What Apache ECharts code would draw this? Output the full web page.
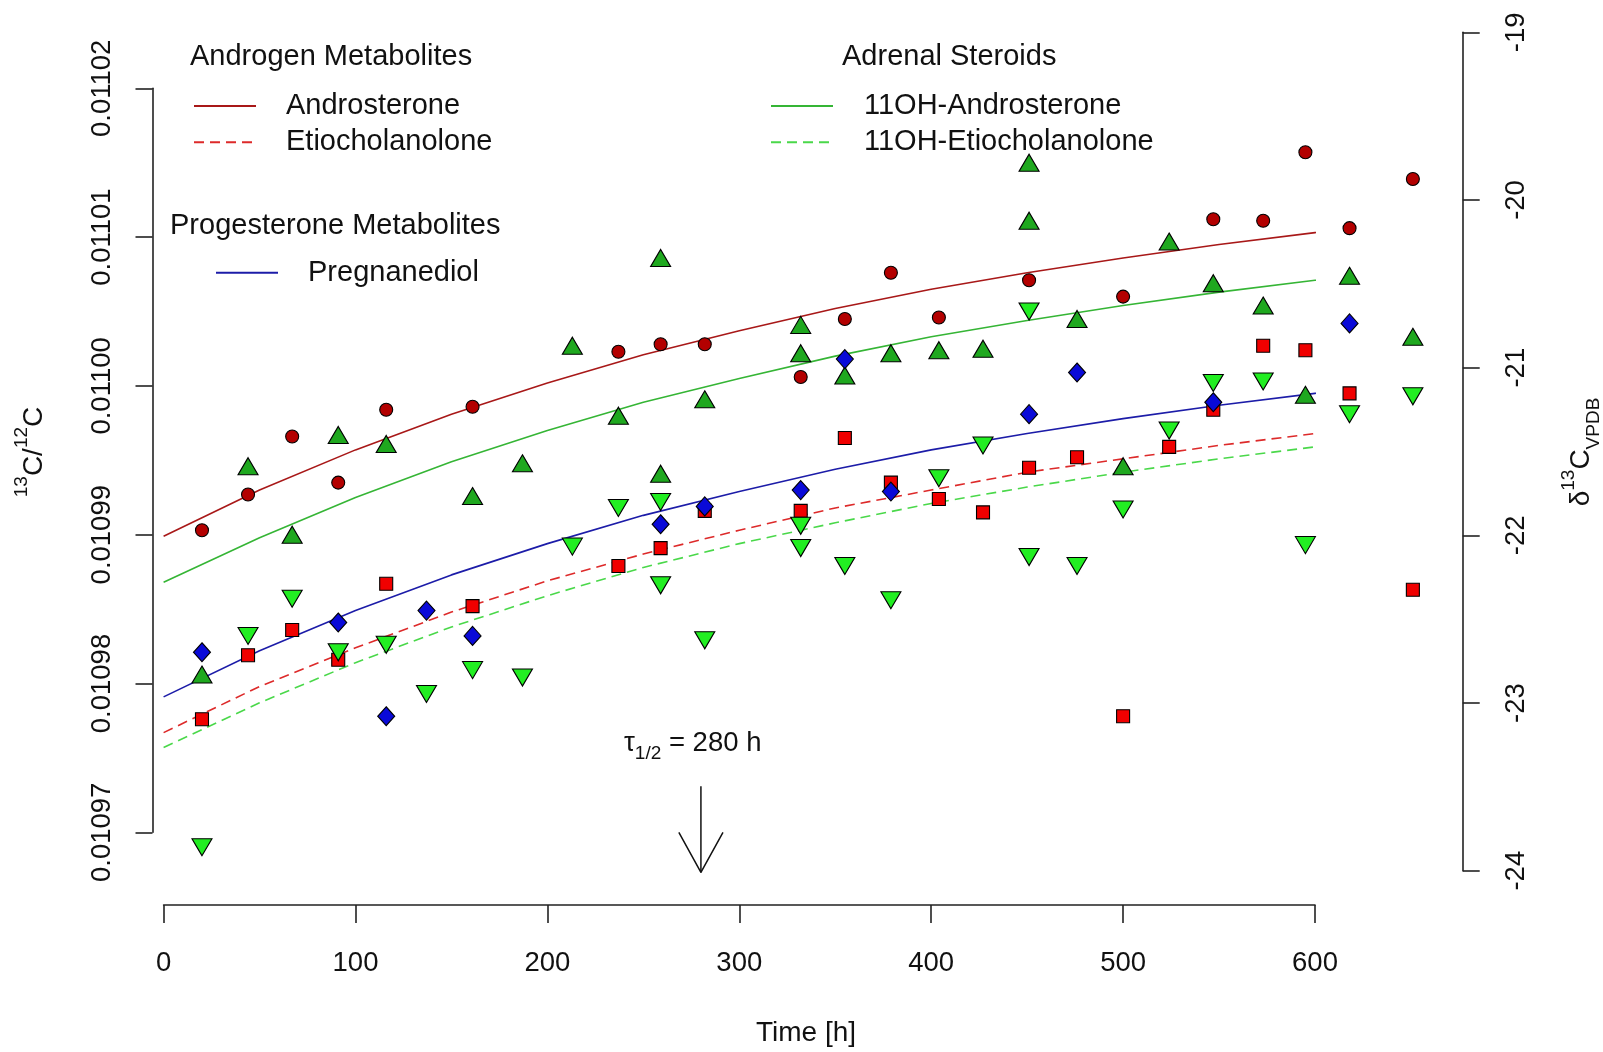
<!DOCTYPE html>
<html>
<head>
<meta charset="utf-8">
<script src="https://cdn.jsdelivr.net/npm/echarts@6/dist/echarts.min.js"></script>
<style>
  html, body { margin: 0; padding: 0; background: #fff; }
  #chart { width: 1603px; height: 1052px; }
</style>
</head>
<body>
<div id="chart"></div>
<script>
// fitted curves, time in hours
var fitTime = [0, 50, 100, 150, 200, 250, 300, 350, 400, 450, 500, 550, 600, 627];
var androFit = [0.0109899, 0.0109930, 0.0109957, 0.0109981, 0.0110002, 0.0110021, 0.0110037, 0.0110052, 0.0110065, 0.0110076, 0.0110086, 0.0110095, 0.0110103, 0.0110107];
var etioFit = [0.0109767, 0.0109798, 0.0109824, 0.0109848, 0.0109869, 0.0109887, 0.0109903, 0.0109918, 0.0109930, 0.0109942, 0.0109951, 0.0109960, 0.0109968, 0.0109972];
var ohAndroFit = [0.0109868, 0.0109898, 0.0109925, 0.0109949, 0.0109970, 0.0109989, 0.0110005, 0.0110020, 0.0110033, 0.0110044, 0.0110054, 0.0110063, 0.0110071, 0.0110075];
var ohEtioFit = [0.0109757, 0.0109787, 0.0109814, 0.0109838, 0.0109859, 0.0109878, 0.0109894, 0.0109908, 0.0109921, 0.0109932, 0.0109942, 0.0109951, 0.0109959, 0.0109963];
var pregFit = [0.0109791, 0.0109822, 0.0109849, 0.0109873, 0.0109894, 0.0109913, 0.0109929, 0.0109944, 0.0109957, 0.0109968, 0.0109978, 0.0109987, 0.0109995, 0.0109999];

// measured points
var androTime = [20, 44, 67, 91, 116, 161, 237, 259, 282, 332, 355, 379, 404, 451, 500, 547, 573, 595, 618, 651];
var androVal = [0.0109903, 0.0109927, 0.0109966, 0.0109935, 0.0109984, 0.0109986, 0.0110023, 0.0110028, 0.0110028, 0.0110006, 0.0110045, 0.0110076, 0.0110046, 0.0110071, 0.0110060, 0.0110112, 0.0110111, 0.0110157, 0.0110106, 0.0110139];

var etioTime = [20, 44, 67, 91, 116, 161, 237, 259, 282, 332, 355, 379, 404, 427, 451, 476, 500, 524, 547, 573, 595, 618, 651];
var etioVal = [0.0109776, 0.0109819, 0.0109836, 0.0109816, 0.0109867, 0.0109852, 0.0109879, 0.0109891, 0.0109916, 0.0109916, 0.0109965, 0.0109935, 0.0109924, 0.0109915, 0.0109945, 0.0109952, 0.0109778, 0.0109959, 0.0109984, 0.0110027, 0.0110024, 0.0109995, 0.0109863];

var ohAndroTime = [20, 44, 67, 91, 116, 161, 187, 213, 237, 259, 259, 282, 332, 332, 355, 379, 404, 427, 451, 451, 476, 500, 524, 547, 573, 595, 618, 651];
var ohAndroVal = [0.0109806, 0.0109946, 0.0109900, 0.0109967, 0.0109961, 0.0109926, 0.0109948, 0.0110027, 0.0109980, 0.0110086, 0.0109941, 0.0109991, 0.0110041, 0.0110022, 0.0110007, 0.0110022, 0.0110024, 0.0110025, 0.0110150, 0.0110111, 0.0110045, 0.0109946, 0.0110097, 0.0110069, 0.0110054, 0.0109994, 0.0110074, 0.0110033];

var ohEtioTime = [20, 44, 67, 91, 116, 137, 161, 187, 213, 237, 259, 259, 282, 332, 332, 355, 379, 404, 427, 451, 451, 476, 500, 524, 547, 573, 595, 618, 651];
var ohEtioVal = [0.0109690, 0.0109832, 0.0109857, 0.0109821, 0.0109826, 0.0109793, 0.0109809, 0.0109804, 0.0109892, 0.0109918, 0.0109922, 0.0109866, 0.0109829, 0.0109906, 0.0109891, 0.0109879, 0.0109856, 0.0109938, 0.0109960, 0.0110050, 0.0109885, 0.0109879, 0.0109917, 0.0109970, 0.0110002, 0.0110003, 0.0109893, 0.0109981, 0.0109993];

var pregTime = [20, 91, 116, 137, 161, 259, 282, 332, 355, 379, 451, 476, 547, 618];
var pregVal = [0.0109821, 0.0109841, 0.0109778, 0.0109849, 0.0109832, 0.0109907, 0.0109919, 0.0109930, 0.0110018, 0.0109929, 0.0109981, 0.0110009, 0.0109989, 0.0110042];

// half-life arrow at 280 h
var arrowShaft = [[280, 0.0109731], [280, 0.0109673]];
var arrowHead = [[268.5, 0.0109700], [280, 0.0109673], [291.5, 0.0109700]];

var font = 'Liberation Sans, Arial, sans-serif';
var axisColor = '#222';

function pairs(ts, vs) {
  return ts.map(function (t, i) { return [t, vs[i]]; });
}

function fitLine(name, data, color, dashed) {
  return {
    name: name,
    type: 'line',
    data: pairs(fitTime, data),
    symbol: 'none',
    clip: false,
    silent: true,
    z: 2,
    itemStyle: { color: color },
    lineStyle: { color: color, width: 1.6, type: dashed ? [10, 6] : 'solid' }
  };
}

function points(name, ts, vs, symbol, size, fill, rotate) {
  return {
    name: name,
    type: 'scatter',
    data: pairs(ts, vs),
    symbol: symbol,
    symbolSize: size,
    symbolRotate: rotate || 0,
    clip: false,
    silent: true,
    z: 3,
    itemStyle: { color: fill, borderColor: '#000', borderWidth: 1.1, opacity: 1 }
  };
}

// legend shows only the line sample, the default circle is made invisible
function legendBlock(names, left, top, gap) {
  return {
    data: names, orient: 'vertical', left: left, top: top,
    padding: 0, itemWidth: 62, itemHeight: 36, itemGap: 7.2, selectedMode: false,
    itemStyle: { opacity: 0, borderWidth: 0 },
    textStyle: { fontSize: 29, color: '#111', fontFamily: font, padding: [0, 0, 0, gap] }
  };
}

var chart = echarts.init(document.getElementById('chart'), null, { renderer: 'canvas' });

chart.setOption({
  animation: false,
  backgroundColor: '#fff',
  textStyle: { fontFamily: font },
  grid: [
    { left: 163.6, top: 88.3, width: 1151.4, height: 744 },
    { left: 163.6, top: 32.3, width: 1299.1, height: 838.4 }
  ],
  xAxis: [
    {
      gridIndex: 0, type: 'value', min: 0, max: 600, interval: 100, offset: 72.7,
      axisLine: { show: true, onZero: false, lineStyle: { color: axisColor, width: 1.6 } },
      axisTick: { show: true, inside: false, length: 18, lineStyle: { color: axisColor, width: 1.6 } },
      axisLabel: { margin: 44, fontSize: 27.5, color: '#111', fontFamily: font },
      splitLine: { show: false }
    },
    { gridIndex: 1, type: 'value', min: 0, max: 600, show: false }
  ],
  yAxis: [
    {
      gridIndex: 0, type: 'value', min: 0.01097, max: 0.01102, interval: 0.00001, offset: 11.1,
      axisLine: { show: true, onZero: false, lineStyle: { color: axisColor, width: 1.6 } },
      axisTick: { show: true, inside: false, length: 17, lineStyle: { color: axisColor, width: 1.6 } },
      axisLabel: {
        rotate: 90, margin: 36, fontSize: 27.5, color: '#111', fontFamily: font,
        formatter: function (v) { return v.toFixed(5); }
      },
      splitLine: { show: false }
    },
    {
      gridIndex: 1, type: 'value', position: 'right', min: -24, max: -19, interval: 1,
      axisLine: { show: true, onZero: false, lineStyle: { color: axisColor, width: 1.6 } },
      axisTick: { show: true, inside: false, length: 17, lineStyle: { color: axisColor, width: 1.6 } },
      axisLabel: { rotate: 90, margin: 40, fontSize: 27.5, color: '#111', fontFamily: font },
      splitLine: { show: false }
    }
  ],
  legend: [
    legendBlock(['Androsterone', 'Etiocholanolone'], 193, 91.6, 25),
    legendBlock(['Pregnanediol'], 215, 258.3, 25),
    legendBlock(['11OH-Androsterone', '11OH-Etiocholanolone'], 770, 91.6, 26)
  ],
  graphic: [
    { type: 'text', x: 190, y: 57, style: { text: 'Androgen Metabolites', fontSize: 29, fontFamily: font, fill: '#111', align: 'left', verticalAlign: 'middle' } },
    { type: 'text', x: 170, y: 226, style: { text: 'Progesterone Metabolites', fontSize: 29, fontFamily: font, fill: '#111', align: 'left', verticalAlign: 'middle' } },
    { type: 'text', x: 842, y: 57, style: { text: 'Adrenal Steroids', fontSize: 29, fontFamily: font, fill: '#111', align: 'left', verticalAlign: 'middle' } },
    { type: 'text', x: 806, y: 1033, style: { text: 'Time [h]', fontSize: 28, fontFamily: font, fill: '#111', align: 'center', verticalAlign: 'middle' } },
    {
      type: 'text', x: 34, y: 452, rotation: Math.PI / 2,
      style: {
        text: '{sup|13}{m|C/}{sup|12}{m|C}', align: 'center', verticalAlign: 'middle', fill: '#111',
        rich: {
          m: { fontSize: 28, fontFamily: font, lineHeight: 44, verticalAlign: 'middle', color: '#111' },
          sup: { fontSize: 19, fontFamily: font, verticalAlign: 'top', color: '#111' }
        }
      }
    },
    {
      type: 'text', x: 1581, y: 452, rotation: Math.PI / 2,
      style: {
        text: '{m|δ}{sup|13}{m|C}{sub|VPDB}', align: 'center', verticalAlign: 'middle', fill: '#111',
        rich: {
          m: { fontSize: 28, fontFamily: font, lineHeight: 44, verticalAlign: 'middle', color: '#111' },
          sup: { fontSize: 19, fontFamily: font, verticalAlign: 'top', color: '#111' },
          sub: { fontSize: 19, fontFamily: font, verticalAlign: 'bottom', color: '#111' }
        }
      }
    },
    {
      type: 'text', x: 624, y: 743,
      style: {
        text: '{m|τ}{sub|1/2}{m| = 280 h}', align: 'left', verticalAlign: 'middle', fill: '#111',
        rich: {
          m: { fontSize: 27.5, fontFamily: font, lineHeight: 40, verticalAlign: 'middle', color: '#111' },
          sub: { fontSize: 19, fontFamily: font, verticalAlign: 'bottom', color: '#111' }
        }
      }
    }
  ],
  series: [
    fitLine('Androsterone', androFit, '#a81818', false),
    fitLine('Etiocholanolone', etioFit, '#dd2a2a', true),
    fitLine('11OH-Androsterone', ohAndroFit, '#35b535', false),
    fitLine('11OH-Etiocholanolone', ohEtioFit, '#4ad84a', true),
    fitLine('Pregnanediol', pregFit, '#1c1ca8', false),
    {
      name: 'arrow shaft', type: 'line', data: arrowShaft, symbol: 'none', clip: false, silent: true,
      lineStyle: { color: '#111', width: 1.5 }
    },
    {
      name: 'arrow head', type: 'line', data: arrowHead, symbol: 'none', clip: false, silent: true,
      lineStyle: { color: '#111', width: 1.5 }
    },
    points('Androsterone data', androTime, androVal, 'circle', 13, '#b30000'),
    points('Etiocholanolone data', etioTime, etioVal, 'rect', 13, '#f00000'),
    points('11OH-Androsterone data', ohAndroTime, ohAndroVal, 'triangle', [20, 17], '#1fa81f'),
    points('11OH-Etiocholanolone data', ohEtioTime, ohEtioVal, 'triangle', [20, 17], '#22ee22', 180),
    points('Pregnanediol data', pregTime, pregVal, 'diamond', [17, 19], '#0a0ad8')
  ]
});
</script>
</body>
</html>
